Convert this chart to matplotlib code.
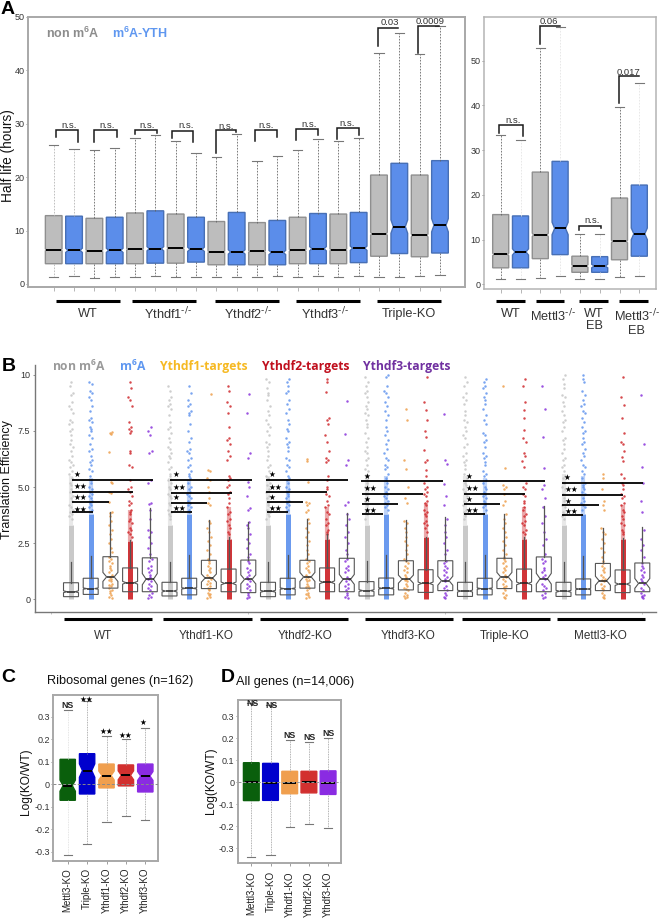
#!/usr/bin/env python3
# -*- coding: utf-8 -*-
"""
m6A half life / translation efficiency figure, panels A-D
"""
import matplotlib
matplotlib.use("Agg")
import matplotlib.pyplot as plt

plt.rcParams['font.family'] = ['Liberation Sans', 'DejaVu Sans']
plt.rcParams['mathtext.default'] = 'regular'

W, H = 670, 921

# panel A left, half life (hours)
A_Q1 = [3.8, 3.8, 3.8, 3.8, 3.8, 3.9, 3.9, 4.1, 3.6, 3.6, 3.6, 3.6, 3.8, 3.8, 3.8, 4.0, 5.2, 5.7, 5.1, 5.8]
A_MED = [6.4, 6.3, 6.2, 6.3, 6.5, 6.6, 6.7, 6.5, 6.0, 6.0, 6.1, 5.9, 6.3, 6.6, 6.4, 6.7, 9.4, 10.75, 9.1, 11.0]
A_Q3 = [12.8, 12.7, 12.3, 12.5, 13.3, 13.7, 13.1, 12.5, 11.7, 13.4, 11.5, 11.9, 12.5, 13.2, 13.1, 13.4, 20.4, 22.6, 20.4, 23.1]
A_LOW = [1.4, 1.5, 1.2, 1.4, 1.4, 1.5, 1.4, 1.4, 1.3, 1.4, 1.4, 1.5, 1.4, 1.5, 1.4, 1.5, 1.3, 1.4, 1.5, 1.6]
A_HIGH = [26.0, 25.2, 25.0, 25.5, 27.3, 27.9, 26.8, 24.6, 23.8, 28.0, 23.0, 23.9, 25.1, 27.1, 26.8, 27.3, 43.3, 47.0, 43.1, 48.3]
A_NOTCH = [0.2, 0.4, 0.2, 0.4, 0.2, 0.4, 0.2, 0.4, 0.2, 0.4, 0.2, 0.4, 0.2, 0.4, 0.2, 0.4, 0.3, 1.25, 0.3, 1.25]
# panel A right
AR_Q1 = [3.7, 3.7, 5.75, 6.65, 2.7, 2.7, 5.5, 6.3]
AR_MED = [6.7, 7.25, 11.06, 12.5, 4.1, 4.1, 9.6, 11.3]
AR_Q3 = [15.6, 15.3, 25.1, 27.5, 6.3, 6.2, 19.3, 22.2]
AR_LOW = [1.1, 1.3, 1.5, 1.8, 1.1, 1.1, 1.6, 1.8]
AR_HIGH = [33.3, 32.3, 52.8, 57.5, 11.3, 11.3, 39.6, 45.0]
AR_NOTCH = [0.3, 0.7, 0.4, 1.4, 0.3, 0.4, 0.3, 1.3]

# panel B, translation efficiency; order per group: non m6A, m6A, Ythdf1, Ythdf2, Ythdf3
B_Q1 = [.12, .22, .5, .34, .34, .15, .2, .48, .34, .3, .12, .2, .5, .34, .34,
        .15, .2, .42, .31, .39, .13, .2, .48, .34, .34, .13, .2, .39, .3, .34]
B_MED = [.34, .48, 1.0, .74, .9, .37, .49, .95, .71, .89, .36, .48, 1.0, .76, .89,
         .39, .49, .9, .71, .83, .37, .48, 1.0, .71, .92, .36, .46, .83, .68, .71]
B_Q3 = [.74, .94, 1.9, 1.4, 1.85, .76, .94, 1.74, 1.35, 1.75, .76, .94, 1.74, 1.4, 1.83,
        .79, .95, 1.72, 1.32, 1.72, .76, .94, 1.83, 1.35, 1.89, .76, .91, 1.6, 1.31, 1.62]
B_HIGH = [1.65, 1.95, 3.9, 2.65, 4.05, 1.65, 1.98, 3.54, 2.8, 3.46, 1.68, 1.98, 3.6, 2.9, 3.86,
          1.72, 1.98, 3.54, 2.8, 3.66, 1.68, 1.98, 3.8, 2.8, 4.16, 1.68, 1.93, 3.17, 2.72, 3.24]
B_NOTCH = [.04, .03, .2, .06, .25, .04, .03, .18, .06, .2, .04, .03, .2, .06, .22,
           .04, .03, .18, .06, .2, .04, .03, .2, .06, .24, .04, .03, .2, .06, .22]
# strips are too dense to read point by point below these levels
B_SOLID_TOP = [3.3, 3.8, 0, 2.6, 0, 3.3, 3.8, 0, 2.7, 0, 3.3, 3.8, 0, 2.7, 0,
               3.3, 3.8, 0, 2.8, 0, 3.3, 3.8, 0, 2.7, 0, 3.3, 3.8, 0, 2.7, 0]
B_SOFT_TOP = [5.5, 5.4, 0, 4.0, 0, 5.4, 5.3, 0, 4.1, 0, 5.5, 5.3, 0, 4.1, 0,
              5.6, 5.5, 0, 4.3, 0, 5.5, 5.4, 0, 4.1, 0, 5.6, 5.5, 0, 4.2, 0]

B_GREY_PTS = [
    [9.7, 9.5, 9.2, 9.1, 8.8, 8.6, 8.5, 8.3, 8.0, 7.9, 7.8, 7.6, 7.5, 7.3, 7.1, 6.9, 6.8, 6.6, 6.4, 6.2, 6.1, 6.0, 5.9, 5.7, 5.6, 5.4, 5.2, 5.1, 4.9, 4.8, 4.6, 4.5, 4.4, 4.2, 4.1, 4.0, 3.9, 3.8, 3.7, 3.6],
    [9.5, 9.3, 9.0, 8.9, 8.7, 8.6, 8.5, 8.2, 7.9, 7.7, 7.6, 7.4, 7.2, 7.0, 6.8, 6.7, 6.5, 6.4, 6.3, 6.1, 5.9, 5.8, 5.6, 5.5, 5.3, 5.2, 5.0, 4.9, 4.7, 4.6, 4.5, 4.3, 4.2, 4.0, 3.9, 3.8, 3.7, 3.6],
    [9.8, 9.7, 9.4, 9.2, 9.1, 8.9, 8.6, 8.4, 8.2, 8.0, 7.8, 7.7, 7.5, 7.3, 7.0, 6.9, 6.8, 6.6, 6.4, 6.2, 6.0, 5.9, 5.7, 5.5, 5.4, 5.2, 5.1, 4.9, 4.8, 4.6, 4.5, 4.3, 4.2, 4.0, 3.9, 3.8, 3.7, 3.6],
    [9.9, 9.7, 9.5, 9.3, 9.2, 9.0, 8.8, 8.6, 8.5, 8.3, 8.2, 8.0, 7.8, 7.7, 7.4, 7.2, 7.0, 6.8, 6.6, 6.5, 6.3, 6.2, 6.0, 5.8, 5.7, 5.5, 5.3, 5.2, 5.0, 4.9, 4.7, 4.5, 4.4, 4.2, 4.0, 3.9, 3.8, 3.6],
    [9.9, 9.7, 9.5, 9.2, 9.0, 8.9, 8.7, 8.4, 8.2, 8.0, 7.9, 7.7, 7.5, 7.3, 7.2, 6.9, 6.8, 6.5, 6.4, 6.2, 6.1, 6.0, 5.8, 5.6, 5.4, 5.2, 5.1, 4.9, 4.8, 4.6, 4.4, 4.3, 4.2, 4.0, 3.9, 3.8, 3.7, 3.6],
    [10.0, 9.8, 9.6, 9.4, 9.1, 9.0, 8.8, 8.6, 8.4, 8.2, 8.0, 7.9, 7.7, 7.5, 7.2, 7.1, 6.9, 6.7, 6.5, 6.3, 6.2, 6.0, 5.9, 5.7, 5.5, 5.4, 5.2, 5.0, 4.9, 4.7, 4.5, 4.4, 4.2, 4.1, 3.9, 3.8, 3.7, 3.6],
]
B_BLUE_PTS = [
    [9.7, 9.6, 9.3, 9.2, 9.0, 8.9, 8.6, 8.4, 8.1, 8.0, 7.9, 7.7, 7.6, 7.5, 7.3, 7.2, 6.9, 6.7, 6.6, 6.4, 6.2, 6.1, 6.0, 5.8, 5.7, 5.5, 5.3, 5.2, 5.0, 4.9, 4.8, 4.7, 4.6, 4.5, 4.4, 4.3, 4.2, 4.1, 4.0],
    [9.5, 9.2, 8.9, 8.7, 8.6, 8.4, 8.3, 8.2, 7.8, 7.5, 7.2, 7.0, 6.7, 6.6, 6.5, 6.3, 6.2, 6.0, 5.9, 5.7, 5.6, 5.5, 5.4, 5.2, 5.0, 4.9, 4.8, 4.7, 4.6, 4.5, 4.4, 4.3, 4.2, 4.1, 4.0, 3.9],
    [9.8, 9.7, 9.5, 9.3, 9.2, 8.9, 8.7, 8.5, 8.3, 8.0, 7.8, 7.6, 7.5, 7.2, 7.0, 6.9, 6.8, 6.6, 6.3, 6.2, 6.0, 5.9, 5.7, 5.5, 5.4, 5.3, 5.2, 5.0, 4.9, 4.8, 4.7, 4.6, 4.5, 4.4, 4.3, 4.2, 4.1, 4.0],
    [10.0, 9.9, 9.5, 9.3, 9.2, 9.0, 8.8, 8.6, 8.4, 8.2, 8.0, 7.7, 7.5, 7.3, 7.1, 6.9, 6.7, 6.5, 6.3, 6.2, 6.0, 5.9, 5.8, 5.6, 5.4, 5.3, 5.2, 5.0, 4.9, 4.8, 4.7, 4.6, 4.5, 4.4, 4.3, 4.2, 4.1, 4.0],
    [9.8, 9.7, 9.5, 9.4, 9.2, 9.0, 8.9, 8.7, 8.5, 8.2, 8.0, 7.8, 7.4, 7.3, 7.1, 7.0, 6.8, 6.5, 6.4, 6.3, 6.1, 6.0, 5.7, 5.6, 5.5, 5.3, 5.2, 5.0, 4.9, 4.8, 4.7, 4.6, 4.5, 4.4, 4.3, 4.2, 4.1, 4.0],
    [10.0, 9.8, 9.7, 9.3, 9.1, 8.9, 8.7, 8.6, 8.4, 8.3, 8.1, 7.9, 7.7, 7.5, 7.4, 7.2, 7.0, 6.9, 6.7, 6.5, 6.4, 6.2, 6.0, 5.9, 5.7, 5.6, 5.4, 5.2, 5.1, 5.0, 4.9, 4.8, 4.7, 4.5, 4.4, 4.3, 4.2, 4.1, 4.0],
]
B_ORANGE_PTS = [
    [7.45, 7.4, 7.35, 6.55, 5.25, 5.2, 4.8, 4.75, 4.35, 3.9, 3.85, 3.7, 3.5, 3.3, 3.1, 2.9, 2.7, 2.5, 2.3, 2.1, 1.9, 1.8, 1.7, 1.6, 1.5, 1.4, 1.3, 1.2, 1.1, 1.0, .9, .85, .8, .7, .65, .6, .5, .4, .35, .3, .2, .1, .05],
    [9.15, 5.75, 5.7, 5.4, 5.3, 5.0, 4.8, 4.5, 4.3, 4.2, 3.5, 3.4, 3.2, 3.0, 2.8, 2.6, 2.4, 2.2, 2.0, 1.8, 1.7, 1.6, 1.5, 1.4, 1.3, 1.2, 1.1, 1.0, .9, .8, .75, .7, .6, .5, .45, .4, .3, .25, .2, .1, .05],
    [6.25, 6.15, 5.25, 4.35, 4.3, 4.2, 4.0, 3.9, 3.6, 3.4, 3.2, 3.0, 2.8, 2.6, 2.4, 2.2, 2.0, 1.8, 1.7, 1.6, 1.5, 1.4, 1.3, 1.2, 1.1, 1.0, .9, .85, .8, .7, .6, .55, .5, .4, .3, .25, .2, .1, .05],
    [8.47, 8.0, 6.2, 5.8, 5.0, 4.5, 4.3, 3.5, 3.4, 3.2, 3.0, 2.8, 2.6, 2.4, 2.2, 2.0, 1.8, 1.7, 1.6, 1.5, 1.4, 1.3, 1.2, 1.1, 1.0, .9, .85, .8, .7, .6, .5, .45, .4, .3, .2, .15, .1, .05],
    [9.5, 5.85, 5.1, 5.0, 4.9, 4.7, 4.4, 4.2, 3.8, 3.6, 3.4, 3.2, 3.0, 2.8, 2.6, 2.4, 2.2, 2.0, 1.9, 1.8, 1.7, 1.6, 1.5, 1.4, 1.3, 1.2, 1.1, 1.0, .9, .8, .7, .6, .55, .5, .4, .3, .2, .1, .05],
    [5.6, 5.4, 4.9, 4.4, 4.2, 4.0, 3.2, 3.0, 2.9, 2.7, 2.5, 2.3, 2.1, 1.9, 1.7, 1.6, 1.5, 1.4, 1.3, 1.2, 1.1, 1.0, .9, .85, .8, .7, .6, .5, .45, .4, .3, .2, .1, .05],
]
B_RED_PTS = [
    [9.7, 9.4, 9.0, 8.9, 8.6, 7.9, 7.7, 7.6, 7.5, 7.4, 6.6, 6.5, 6.0, 5.9, 5.3, 5.0, 4.9, 4.8, 4.6, 4.4, 4.3, 4.2, 4.0, 3.9, 3.8, 3.6, 3.5, 3.4, 3.2, 3.1, 3.0, 2.9, 2.8],
    [9.5, 9.3, 8.8, 8.6, 8.3, 7.7, 7.2, 7.1, 6.9, 6.6, 6.4, 6.2, 5.5, 5.4, 5.3, 5.1, 5.0, 4.8, 4.7, 4.5, 4.3, 4.1, 3.9, 3.8, 3.6, 3.5, 3.3, 3.2, 3.0, 2.9],
    [9.8, 9.7, 9.25, 8.1, 8.0, 7.8, 7.3, 7.0, 6.6, 6.3, 6.2, 6.1, 5.5, 5.3, 5.0, 4.9, 4.7, 4.6, 4.4, 4.2, 4.1, 3.9, 3.8, 3.6, 3.4, 3.3, 3.1, 3.0, 2.9],
    [9.9, 8.8, 8.45, 8.0, 7.5, 7.25, 6.65, 6.2, 6.1, 5.75, 5.5, 5.2, 5.0, 4.9, 4.8, 4.7, 4.6, 4.4, 4.3, 4.2, 4.0, 3.9, 3.8, 3.7, 3.5, 3.4, 3.3, 3.2, 3.0],
    [9.8, 9.5, 8.8, 8.45, 8.1, 7.55, 7.2, 7.0, 6.5, 6.4, 6.15, 5.9, 5.2, 5.0, 4.9, 4.7, 4.6, 4.4, 4.3, 4.1, 4.0, 3.8, 3.7, 3.5, 3.4, 3.3, 3.1, 3.0, 2.9],
    [9.9, 9.0, 8.65, 8.1, 7.4, 7.0, 6.9, 6.6, 6.35, 6.15, 5.6, 5.4, 5.2, 5.1, 4.9, 4.7, 4.6, 4.5, 4.3, 4.2, 4.0, 3.9, 3.7, 3.6, 3.4, 3.3, 3.1, 3.0, 2.9],
]
B_PURPLE_PTS = [
    [7.7, 7.5, 7.3, 6.6, 6.5, 5.3, 5.2, 4.3, 4.25, 4.0, 3.6, 3.1, 3.0, 2.8, 2.5, 2.3, 2.0, 1.8, 1.7, 1.5, 1.4, 1.3, 1.2, 1.1, 1.0, .9, .8, .7, .6, .5, .4, .3, .2, .1, .05],
    [9.15, 8.3, 6.5, 6.3, 5.25, 5.0, 4.6, 4.05, 4.0, 3.45, 3.3, 3.2, 2.9, 2.7, 2.5, 2.3, 2.0, 1.9, 1.7, 1.6, 1.4, 1.3, 1.2, 1.1, 1.0, .9, .8, .7, .6, .5, .4, .3, .2, .1, .05],
    [8.85, 7.37, 6.2, 6.0, 4.35, 4.2, 3.8, 3.6, 3.3, 3.0, 2.8, 2.5, 2.2, 2.0, 1.8, 1.7, 1.5, 1.4, 1.3, 1.2, 1.0, .9, .8, .7, .6, .5, .4, .3, .2, .1, .05],
    [8.25, 6.2, 6.05, 5.15, 4.6, 4.2, 3.6, 3.3, 3.0, 2.8, 2.5, 2.2, 2.0, 1.7, 1.6, 1.5, 1.4, 1.3, 1.2, 1.1, 1.0, .9, .8, .6, .5, .4, .3, .2, .1, .05],
    [9.5, 8.47, 7.25, 5.85, 5.1, 4.9, 4.5, 4.1, 3.7, 3.4, 3.0, 2.7, 2.4, 2.0, 1.8, 1.7, 1.6, 1.4, 1.3, 1.2, 1.1, 1.0, .9, .7, .6, .5, .4, .3, .2, .1, .05],
    [9.1, 6.9, 5.9, 5.2, 4.4, 3.9, 3.1, 2.7, 2.4, 2.2, 1.9, 1.6, 1.5, 1.4, 1.3, 1.2, 1.1, 1.0, .9, .8, .7, .5, .4, .3, .2, .15, .1, .05],
]
# x spread of a strip, in box units, reused in turn
STRIP_SPREAD = [0.02, -0.07, 0.08, -0.02, 0.05, -0.09, 0.01, 0.09, -0.05, 0.04, -0.08, 0.07, -0.03, 0.0]

# panels C and D, Log(KO/WT)
CD_NAMES = ['Mettl3-KO', 'Triple-KO', 'Ythdf1-KO', 'Ythdf2-KO', 'Ythdf3-KO']
C_Q1 = [-.071, -.043, -.016, -.007, -.034]
C_MED = [-.006, .061, .039, .04, .037]
C_Q3 = [.111, .136, .09, .086, .09]
C_LOW = [-.315, -.264, -.169, -.142, -.159]
C_HIGH = [.33, .372, .216, .2, .252]
C_NOTCH = [.025, .03, .02, .02, .02]
D_Q1 = [-.083, -.082, -.052, -.048, -.055]
D_MED = [0.0, -.002, -.002, .002, -.002]
D_Q3 = [.089, .086, .05, .05, .052]
D_LOW = [-.341, -.33, -.203, -.189, -.209]
D_HIGH = [.36, .35, .192, .185, .2]
D_NOTCH = [.004, .004, .003, .003, .003]

GREY, BLUE = '#bdbdbd', '#5b8dea'
STRIP_COLS = ['#c6c6c6', '#6395ee', '#ee9f4c', '#cf2a2e', '#8a35dc']
CD_COLS = ['#0a5f0c', '#0000cd', '#f09f4e', '#d2302f', '#8a2be2']
FRAME = '#a8a8a8'
DARK = '#333333'


def px_axes(fig, left, top, right, bottom, x0, dx):
    """axes placed in image pixels, box i sits at pixel x0 + dx * i"""
    ax = fig.add_axes([left / W, 1 - bottom / H, (right - left) / W, (bottom - top) / H])
    ax.set_xlim((left - x0) / dx, (right - x0) / dx)
    return ax


def draw_boxes(ax, q1, med, q3, low, high, notch, colors, edges, width, capw=0.45, lw=1.0,
               whisk='#666666', ls=(0, (2, 1.6)), notch_w=None):
    stats = []
    for i in range(len(med)):
        stats.append(dict(q1=q1[i], med=med[i], q3=q3[i], whislo=low[i], whishi=high[i],
                          cilo=med[i] - notch[i], cihi=med[i] + notch[i], fliers=[]))
    art = ax.bxp(stats, positions=list(range(len(med))), widths=width, shownotches=True,
                 showfliers=False, patch_artist=True, capwidths=capw, manage_ticks=False,
                 medianprops=dict(color='black', lw=1.4, solid_capstyle='butt'),
                 whiskerprops=dict(color=whisk, lw=0.6, ls=ls),
                 capprops=dict(color='#777777', lw=0.8))
    for i, b in enumerate(art['boxes']):
        b.set_facecolor(colors[i])
        b.set_edgecolor(edges[i])
        b.set_linewidth(lw)
        # bxp always cuts the notch a quarter of the box in; the reference is shallower
        if notch_w is not None:
            half = width * notch_w[i]
            verts = b.get_path().vertices
            inner = abs(abs(verts[:, 0] - i) - width * 0.25) < 1e-9
            verts[inner, 0] = i + half * ((verts[inner, 0] > i) * 2 - 1)
            art['medians'][i].set_xdata([i - half, i + half])
    return art


def frame(ax, color=FRAME, lw=1.4):
    for s in ax.spines.values():
        s.set_color(color)
        s.set_linewidth(lw)
    ax.tick_params(axis='y', labelsize=6.5, length=1.5, width=0.5, color='#666666',
                   labelcolor=DARK, pad=1)


fig = plt.figure(figsize=(W / 100, H / 100), dpi=100)

# ---- panel A, left
ax = px_axes(fig, 28, 17, 465, 287.3, 53.7, 20.33)
ax.set_ylim(-0.62, 50)
art = draw_boxes(ax, A_Q1, A_MED, A_Q3, A_LOW, A_HIGH, A_NOTCH, [GREY, BLUE] * 10,
                 ['#8f8f8f', '#476fb5'] * 10, 0.82, notch_w=[0.44, 0.36] * 10)
for wh in art['whiskers'][:4]:
    wh.set_color('#b5b5b5')
frame(ax)
ax.set_yticks([0, 10, 20, 30, 40, 50])
ax.set_xticks(range(20))
ax.set_xticklabels([])
ax.tick_params(axis='x', length=3, width=0.5, color='#999999')

# ---- panel A, right
ax = px_axes(fig, 484.3, 17.3, 656, 289.3, 500.7, 19.8)
ax.set_ylim(-1.1, 59.7)
art = draw_boxes(ax, AR_Q1, AR_MED, AR_Q3, AR_LOW, AR_HIGH, AR_NOTCH, [GREY, BLUE] * 4,
                 ['#8f8f8f', '#476fb5'] * 4, 0.81, notch_w=[0.42, 0.34] * 4)
# blue whiskers almost vanish on this side
for wh in art['whiskers'][2:4] + art['whiskers'][6:8] + art['whiskers'][10:12] + art['whiskers'][14:16]:
    wh.set_color('#e4e4e4')
frame(ax, color='#b4b4b4', lw=1.1)
ax.set_yticks([0, 10, 20, 30, 40, 50])
ax.set_xticks(range(8))
ax.set_xticklabels([])
ax.tick_params(axis='x', length=3, width=0.5, color='#999999')

# ---- panel B
ax = px_axes(fig, 35, 365, 656, 611.7, 71, 19.7)
ax.set_ylim(-0.55, 10.44)
pts_all = [B_GREY_PTS, B_BLUE_PTS, B_ORANGE_PTS, B_RED_PTS, B_PURPLE_PTS]
for i in range(30):
    group, kind = divmod(i, 5)
    if B_SOLID_TOP[i] > 0:
        ax.vlines(i, B_SOLID_TOP[i], B_SOFT_TOP[i], color=STRIP_COLS[kind], lw=3.0, alpha=0.4, zorder=1)
        ax.vlines(i, 0, B_SOLID_TOP[i], color=STRIP_COLS[kind], lw=3.6, alpha=0.95, zorder=1)
    ys = pts_all[kind][group]
    xs = [i + STRIP_SPREAD[(k + i) % len(STRIP_SPREAD)] for k in range(len(ys))]
    ax.scatter(xs, ys, s=3.2, color=STRIP_COLS[kind], alpha=0.85, lw=0, zorder=1)
art = draw_boxes(ax, B_Q1, B_MED, B_Q3, B_Q1, B_HIGH, B_NOTCH, ['none'] * 30, ['#555555'] * 30,
                 0.76, capw=0.0, lw=0.8, whisk='#555555', ls='-')
for wh in art['whiskers']:
    wh.set_linewidth(0.9)
for m in art['medians']:
    m.set_linewidth(1.1)
    m.set_color('#222222')
for s in ['top', 'right']:
    ax.spines[s].set_visible(False)
for s in ['left', 'bottom']:
    ax.spines[s].set_color('#777777')
    ax.spines[s].set_linewidth(1.0)
ax.set_yticks([0, 2.5, 5, 7.5, 10])
ax.set_yticklabels(['0', '2.5', '5.0', '7.5', '10'])
ax.tick_params(axis='y', labelsize=6.5, length=1.5, width=0.5, color='#666666', labelcolor=DARK, pad=2)
ax.set_xticks([-1, 9, 19, 29])
ax.set_xticklabels([])
ax.tick_params(axis='x', length=1.5, width=0.4, color='#999999')

# ---- panel C
ax = px_axes(fig, 53.3, 695, 158.3, 861, 67.7, 19.4)
ax.set_ylim(-0.341, 0.397)
ax.axhline(0, color='#8a8a8a', lw=0.7, ls=(0, (3, 2)), zorder=4)
art = draw_boxes(ax, C_Q1, C_MED, C_Q3, C_LOW, C_HIGH, C_NOTCH, CD_COLS, CD_COLS, 0.79, capw=0.42,
                 whisk='#999999', ls=(0, (1, 1)), notch_w=[0.3] * 5)
for wh in art['whiskers'][:2]:
    wh.set_color('#dddddd')
frame(ax)
ax.set_yticks([-.3, -.2, -.1, 0, .1, .2, .3])
ax.set_yticklabels(['-0.3', '-0.2', '-0.1', '0', '0.1', '0.2', '0.3'])
ax.set_xticks(range(5))
ax.set_xticklabels(CD_NAMES, rotation=90, fontsize=7, color='#222222')
ax.tick_params(axis='x', length=2, width=0.5, color='#777777', pad=3)

# ---- panel D
ax = px_axes(fig, 237.7, 700, 341, 863.3, 251.3, 19.2)
ax.set_ylim(-0.368, 0.374)
ax.axhline(0, color='#999999', lw=0.7, ls=(0, (3, 2)), zorder=4)
draw_boxes(ax, D_Q1, D_MED, D_Q3, D_LOW, D_HIGH, D_NOTCH, CD_COLS, CD_COLS, 0.82, capw=0.42,
           whisk='#999999', ls=(0, (1, 1)), notch_w=[0.42] * 5)
frame(ax)
ax.set_yticks([-.3, -.2, -.1, 0, .1, .2, .3])
ax.set_yticklabels(['-0.3', '-0.2', '-0.1', '0', '0.1', '0.2', '0.3'])
ax.set_xticks(range(5))
ax.set_xticklabels(CD_NAMES, rotation=90, fontsize=7, color='#222222')
ax.tick_params(axis='x', length=2, width=0.5, color='#777777', pad=3.6)

# ---- overlay in image pixels: letters, labels, brackets, group bars
ov = fig.add_axes([0, 0, 1, 1], zorder=10)
ov.set_xlim(0, W)
ov.set_ylim(H, 0)
ov.axis('off')
ov.patch.set_alpha(0)

for letter, x, y in [('A', 1, 10), ('B', 2, 366), ('C', 1, 677), ('D', 221, 677)]:
    ov.text(x, y, letter, fontsize=14, fontweight='bold', va='center', ha='left', color='black')

# half life brackets: x0, x1, top, left end, right end, label, label x, label y
brackets = [
    (55.7, 78.3, 130, 137.3, 141.7, 'n.s.', 69, 125.3),
    (94.3, 117.3, 130, 141.7, 137.3, 'n.s.', 107.3, 125.3),
    (134.7, 156.7, 130, 134.3, 133.3, 'n.s.', 147, 125.3),
    (171.7, 193.3, 130.7, 137.7, 142, 'n.s.', 186.3, 125.3),
    (216, 236, 130, 153.3, 132, 'n.s.', 226.3, 126.7),
    (255.3, 277.3, 130, 141.3, 137.3, 'n.s.', 266, 125.3),
    (296.3, 318.3, 129.3, 140, 135, 'n.s.', 309.3, 124.3),
    (336.7, 359, 127.7, 138.7, 135, 'n.s.', 346.7, 124),
    (378, 398.3, 27.7, 45.7, 27.7, '0.03', 390, 22.7),
    (418, 439, 26, 53.3, 26, '0.0009', 430.3, 22),
    (499.3, 522.7, 125, 132.7, 135.7, 'n.s.', 512.7, 120.3),
    (540, 560, 26, 44, 26, '0.06', 549, 22),
    (579, 601, 225.7, 230, 228, 'n.s.', 591.7, 220),
    (618.7, 638.7, 76.3, 102.7, 76.3, '0.017', 628.7, 72.7),
]
for x0, x1, top, yl, yr, lab, lx, ly in brackets:
    ov.plot([x0, x0, x1, x1], [yl, top, top, yr], color='#1a1a1a', lw=1.1, solid_joinstyle='miter')
    ov.text(lx, ly, lab, fontsize=6.8, ha='center', va='center', color=DARK)

# thick bars under groups with their labels
ybar = 300.7
SUP = r'$^{\text{-/-}}$'
a_groups = [(56, 120, 'WT', 87.7), (132, 196, 'Ythdf1' + SUP, 168), (215, 279, 'Ythdf2' + SUP, 248),
            (296, 360, 'Ythdf3' + SUP, 325), (376.7, 441.3, 'Triple-KO', 408.5)]
for x0, x1, lab, lx in a_groups:
    ov.plot([x0, x1], [ybar, ybar], color='black', lw=2.2, solid_capstyle='butt')
    ov.text(lx, 313.5, lab, fontsize=9.2, ha='center', va='center', color=DARK)
ar_groups = [(496.3, 525.3, 'WT', 511), (535.7, 564.3, 'Mettl3' + SUP, 552.7),
             (579.3, 608.3, 'WT\nEB', 594), (619, 648, 'Mettl3' + SUP + '\nEB', 636.7)]
for x0, x1, lab, lx in ar_groups:
    ov.plot([x0, x1], [ybar, ybar], color='black', lw=2.2, solid_capstyle='butt')
    ov.text(lx, 307.5, lab, fontsize=9.2, ha='center', va='top', color=DARK, linespacing=1.05)

ov.text(8, 156, 'Half life (hours)', fontsize=9.8, rotation=90, ha='center', va='center', color='#111111')
ov.text(7, 480, 'Translation Efficiency', fontsize=9, rotation=90, ha='center', va='center', color='#111111')
ov.text(26, 782, 'Log(KO/WT)', fontsize=8.6, rotation=90, ha='center', va='center', color='#111111')
ov.text(211, 781, 'Log(KO/WT)', fontsize=8.6, rotation=90, ha='center', va='center', color='#111111')
ov.text(120.3, 681, 'Ribosomal genes (n=162)', fontsize=9.2, ha='center', va='center', color='#111111')
ov.text(294.7, 682, 'All genes (n=14,006)', fontsize=9.2, ha='center', va='center', color='#111111')

# legends
ov.text(45.7, 33, 'non m$^{6}$A', fontsize=9, fontweight='bold', color='#8c8c8c', va='center')
ov.text(111.7, 33, 'm$^{6}$A-YTH', fontsize=9, fontweight='bold', color='#5f97f0', va='center')
LEG_FONT = ['Open Sans', 'DejaVu Sans']
ov.text(52, 366.7, 'non m$^{6}$A', fontsize=8.7, fontweight='bold', color='#9a9a9a', va='center', family=LEG_FONT)
ov.text(119, 366.7, 'm$^{6}$A', fontsize=8.7, fontweight='bold', color='#5f97f0', va='center', family=LEG_FONT)
ov.text(160, 366.7, 'Ythdf1-targets', fontsize=8.7, fontweight='bold', color='#f6b922', va='center', family=LEG_FONT)
ov.text(262, 366.7, 'Ythdf2-targets', fontsize=8.7, fontweight='bold', color='#c00f1d', va='center', family=LEG_FONT)
ov.text(363.3, 366.7, 'Ythdf3-targets', fontsize=8.7, fontweight='bold', color='#7030a0', va='center', family=LEG_FONT)

# panel B significance lines per group
b_sig = [
    (71.7, 153.3, 479.7, '★', 77.3, 474.7), (72.3, 133.3, 492, '★★', 80.7, 486.7),
    (72.3, 108.7, 502, '★★', 80.7, 497.7), (72.3, 93.3, 512.3, '★★', 80.7, 509),
    (170, 251.7, 480.3, '★', 176, 474.7), (171, 231.7, 492.7, '★★', 179, 487),
    (171, 207, 502.7, '★', 176, 497.7), (171, 191.7, 512.3, '★★', 179, 508.7),
    (266.3, 347.7, 480, '★', 272, 474.7), (266.3, 327, 492.3, '★★', 275, 487),
    (267.3, 303.3, 502.3, '★', 272, 497.7), (267.3, 287.7, 512.3, '★★', 275, 508.7),
    (361.3, 442.7, 481.3, '★', 367.3, 476), (362, 422.7, 494, '★★', 370.7, 488.3),
    (362, 398.3, 504, '★', 367.3, 499.3), (362, 382.7, 513.7, '★★', 370.7, 510),
    (463.3, 544.7, 481.3, '★', 469, 476), (464, 525, 494, '★★', 472.7, 488.3),
    (464, 500.3, 504, '★', 469, 499.3), (464, 484.7, 513.7, '★★', 472.7, 510),
    (561.7, 643, 483, '★', 567.3, 477.3), (562.3, 623.3, 495, '★★', 571, 489.3),
    (562.3, 598.7, 505, '★', 567.7, 501), (562.3, 583, 515, '★★', 571, 511.3),
]
for x0, x1, y, st, sx, sy in b_sig:
    ov.plot([x0, x1], [y, y], color='black', lw=1.3, solid_capstyle='butt')
    ov.text(sx, sy, st, fontsize=5.5, ha='center', va='center', color='black', family='DejaVu Sans')

b_groups = [(64.3, 152.3, 'WT', 103), (163.3, 251.7, 'Ythdf1-KO', 206), (260.3, 348.3, 'Ythdf2-KO', 305),
            (365, 453.3, 'Ythdf3-KO', 408), (462, 550.3, 'Triple-KO', 505), (557, 645, 'Mettl3-KO', 600)]
for x0, x1, lab, lx in b_groups:
    ov.plot([x0, x1], [619.3, 619.3], color='black', lw=2.2, solid_capstyle='butt')
    ov.text(lx, 636, lab, fontsize=8.5, ha='center', va='center', color=DARK)

# NS / star marks for C and D
c_marks = [('NS', 67.7, 705.7), ('★★', 86.7, 699), ('★★', 106, 731.7), ('★★', 125, 735.7), ('★', 143.3, 722.7)]
d_marks = [('NS', 252.3, 703.3), ('NS', 271.3, 705.7), ('NS', 290, 735), ('NS', 309.3, 737), ('NS', 328.3, 733.7)]
for lab, x, y in c_marks + d_marks:
    if lab == 'NS':
        ov.text(x, y, lab, fontsize=6.3, fontweight='bold', ha='center', va='center', color='#222222')
    else:
        ov.text(x, y, lab, fontsize=5.5, ha='center', va='center', color='black', family='DejaVu Sans')

fig.savefig('out.png', dpi=100)
